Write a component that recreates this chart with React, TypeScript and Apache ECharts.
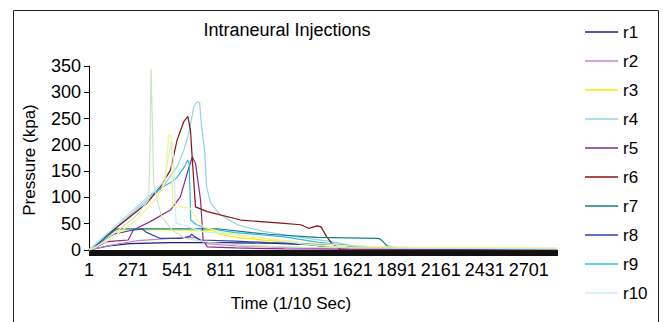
import React, { useEffect, useRef } from "react";
import * as echarts from "echarts";

const CATEGORY_COUNT = 2875;
const categories: string[] = Array.from({ length: CATEGORY_COUNT }, (_, i) => String(i + 1));
const yTicks = [0, 50, 100, 150, 200, 250, 300, 350];
const legendNames = ["r1", "r2", "r3", "r4", "r5", "r6", "r7", "r8", "r9", "r10"];

// [category index, pressure]
const r1 = [[0,0],[120,8],[250,12],[500,14],[800,14],[1100,13],[1350,10],[1500,5],[1650,2],[2000,1],[2874,1]];
const r2 = [[0,0],[150,10],[300,18],[500,22],[650,24],[720,12],[900,8],[1200,5],[1500,2],[2874,1]];
const r3 = [[0,0],[150,38],[300,38],[500,38],[760,37],[800,30],[900,24],[1100,18],[1300,12],[1500,6],[1800,3],[2200,2],[2874,2]];
const r4 = [[0,0],[150,38],[360,95],[450,118],[541,158],[582,190],[613,222],[644,273],[664,282],[680,280],[689,241],[710,190],[722,120],[747,89],[808,67],[911,48],[1076,35],[1281,25],[1487,16],[1650,6],[1900,3],[2874,2]];
const r5 = [[0,0],[60,8],[109,16],[191,18],[241,19],[272,38],[376,54],[500,76],[561,101],[603,146],[634,177],[654,165],[685,95],[701,19],[726,6],[900,4],[1200,2],[2874,1]];
const r6 = [[0,0],[150,38],[356,89],[438,120],[500,152],[541,209],[582,244],[607,254],[623,228],[640,146],[654,82],[726,73],[932,57],[1178,51],[1300,48],[1350,41],[1400,46],[1425,44],[1460,25],[1490,13],[1549,0],[2874,0]];
const r7 = [[0,0],[170,40],[500,40],[800,40],[1000,33],[1100,30],[1400,24],[1780,22],[1800,18],[1830,8],[1900,3],[2874,2]];
const r8 = [[0,0],[150,30],[272,38],[330,40],[350,34],[438,22],[560,22],[620,26],[630,30],[650,25],[685,19],[900,17],[1100,14],[1300,12],[1550,10],[1650,4],[1900,2],[2874,1]];
const r9 = [[0,0],[360,100],[450,120],[500,128],[540,138],[590,160],[605,171],[615,165],[625,57],[660,48],[725,41],[900,33],[1200,25],[1400,15],[1600,8],[1900,4],[2400,3],[2874,2]];
const r10 = [[0,0],[360,100],[460,130],[505,206],[515,200],[535,51],[600,45],[700,35],[1000,25],[1300,12],[1600,4],[2874,2]];
const r11 = [[0,0],[37,4],[181,38],[284,63],[366,95],[375,200],[381,344],[388,260],[397,127],[418,95],[448,63],[510,38],[592,22],[746,14],[1000,8],[1300,5],[1800,4],[2874,3]];
const r12 = [[0,0],[130,20],[300,60],[420,100],[470,130],[480,180],[489,219],[505,219],[515,82],[560,82],[620,80],[660,60],[700,44],[800,35],[1000,25],[1300,15],[1600,8],[2000,5],[2874,4]];

const seriesList = [
  { name: "r1", data: r1, color: "#1A1A80" },
  { name: "r2", data: r2, color: "#CC80C8" },
  { name: "r3", data: r3, color: "#F5EE00" },
  { name: "r4", data: r4, color: "#8FD3E6" },
  { name: "r5", data: r5, color: "#8B2A8B" },
  { name: "r6", data: r6, color: "#8B1010" },
  { name: "r7", data: r7, color: "#108080" },
  { name: "r8", data: r8, color: "#3040B0" },
  { name: "r9", data: r9, color: "#30B8E8" },
  { name: "r10", data: r10, color: "#C8EEF6" },
  { name: "r11", data: r11, color: "#C8E6C0" },
  { name: "r12", data: r12, color: "#FAF28C" },
];

const FONT = "'Liberation Sans', Arial, sans-serif";

export default function App() {
  const ref = useRef<HTMLDivElement>(null);
  useEffect(() => {
    if (!ref.current) return;
    const chart = echarts.init(ref.current, undefined, { renderer: "svg" });
    chart.setOption({
      animation: false,
      textStyle: { fontFamily: FONT },
      grid: { left: 89, right: 106, top: 66, bottom: 72, containLabel: false },
      graphic: [
        { type: "rect", shape: { x: 13.5, y: 10.5, width: 645, height: 400 }, style: { fill: "none", stroke: "#222", lineWidth: 1 }, silent: true },
        { type: "text", x: 287, y: 30, style: { text: "Intraneural Injections", font: `18px ${FONT}`, fill: "#000", textAlign: "center", textVerticalAlign: "middle" } },
        { type: "text", x: 291, y: 303, style: { text: "Time (1/10 Sec)", font: `17px ${FONT}`, fill: "#000", textAlign: "center", textVerticalAlign: "middle" } },
        { type: "text", x: 29, y: 160, rotation: Math.PI / 2, style: { text: "Pressure (kpa)", font: `17px ${FONT}`, fill: "#000", textAlign: "center", textVerticalAlign: "middle" } },
      ],
      legend: {
        orient: "vertical",
        left: 585,
        top: 23,
        padding: 0,
        icon: "rect",
        itemWidth: 33,
        itemHeight: 1.5,
        itemGap: 11,
        data: legendNames,
        textStyle: { fontSize: 17, lineHeight: 18, color: "#000", fontFamily: FONT, padding: [0, 0, 0, 0] },
      },
      xAxis: {
        type: "category",
        data: categories,
        boundaryGap: false,
        axisLine: { lineStyle: { color: "#000", width: 1 } },
        axisTick: { show: true, interval: 0, length: 6, lineStyle: { color: "#111", width: 1 } },
        axisLabel: { interval: 269, color: "#000", fontSize: 18, margin: 11, fontFamily: FONT },
        splitLine: { show: false },
      },
      yAxis: {
        type: "value",
        min: yTicks[0],
        max: yTicks[yTicks.length - 1],
        interval: 50,
        axisLine: { show: true, lineStyle: { color: "#000" } },
        axisTick: { show: true, length: 5, lineStyle: { color: "#000" } },
        axisLabel: { color: "#000", fontSize: 18, margin: 8, fontFamily: FONT },
        splitLine: { show: false },
      },
      series: seriesList.map((s) => ({
        name: s.name,
        type: "line",
        data: s.data,
        symbol: "none",
        showSymbol: false,
        color: s.color,
        lineStyle: { color: s.color, width: 1.2 },
        emphasis: { disabled: true },
      })),
    });
    return () => chart.dispose();
  }, []);
  return <div ref={ref} style={{ width: 663, height: 322, position: "absolute", left: 0, top: 0 }} />;
}
